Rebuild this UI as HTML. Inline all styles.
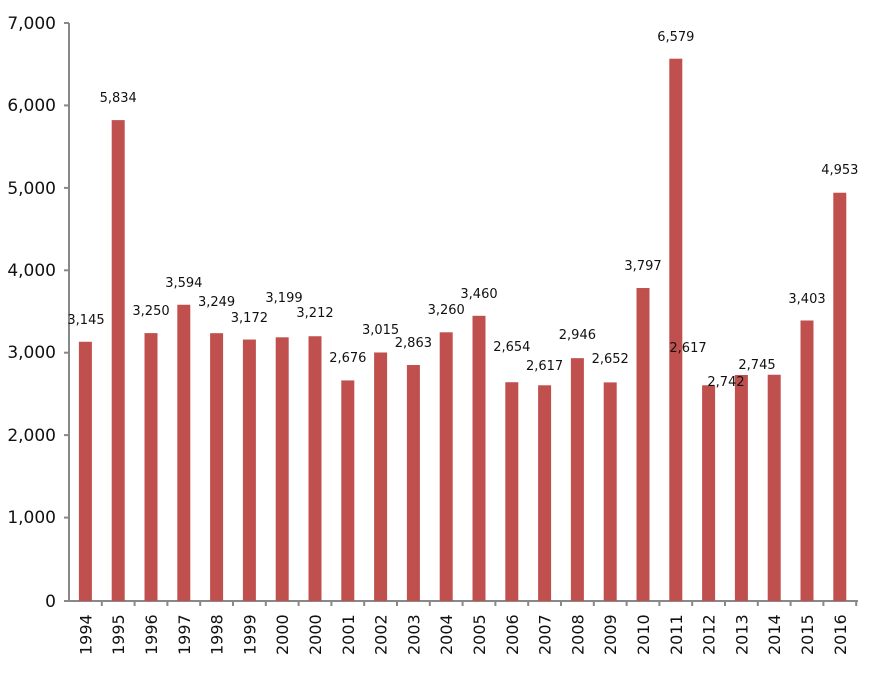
<!DOCTYPE html>
<html><head><meta charset="utf-8"><style>
html,body{margin:0;padding:0;background:#fff;}
svg text{font-family:"DejaVu Sans","Liberation Sans",sans-serif;fill:#111;}
</style></head><body>
<svg width="870" height="674" xmlns="http://www.w3.org/2000/svg">
<g id="yaxis" stroke="#888" stroke-width="2">
<line x1="69" y1="23" x2="69" y2="602"/>
<line x1="64" y1="23" x2="69" y2="23"/><line x1="64" y1="105.4" x2="69" y2="105.4"/><line x1="64" y1="187.9" x2="69" y2="187.9"/><line x1="64" y1="270.3" x2="69" y2="270.3"/><line x1="64" y1="352.7" x2="69" y2="352.7"/><line x1="64" y1="435.1" x2="69" y2="435.1"/><line x1="64" y1="517.6" x2="69" y2="517.6"/>
<line x1="64" y1="601" x2="858" y2="601"/>
</g>
<g font-size="17" text-anchor="end">
<text x="56" y="29">7,000</text><text x="56" y="111">6,000</text><text x="56" y="194">5,000</text><text x="56" y="276">4,000</text><text x="56" y="358">3,000</text><text x="56" y="441">2,000</text><text x="56" y="523">1,000</text><text x="56" y="607">0</text>
</g>
<g id="bars"></g>
<g id="xt" stroke="#888" stroke-width="2"></g>
<g id="xl" font-size="16"></g>
<g id="vl" font-size="13" text-anchor="middle"></g>
</svg>
<script>
var yrs=["1994","1995","1996","1997","1998","1999","2000","2000","2001","2002","2003","2004","2005","2006","2007","2008","2009","2010","2011","2012","2013","2014","2015","2016"];
var v=[3145,5834,3250,3594,3249,3172,3199,3212,2676,3015,2863,3260,3460,2654,2617,2946,2652,3797,6579,2617,2742,2745,3403,4953];
var ly=[324,102,315,287,306,322,302,317,362,334,347,314,298,351,370,339,363,270,41,352,386,369,303,174];
var lx={0:86,6:284,19:688,20:726,21:757};
var ns="http://www.w3.org/2000/svg",sp=32.8,b=document.getElementById("bars"),xt=document.getElementById("xt"),xl=document.getElementById("xl"),vl=document.getElementById("vl");
function el(t,a,p,tx){var e=document.createElementNS(ns,t);for(var k in a)e.setAttribute(k,a[k]);if(tx)e.textContent=tx;p.appendChild(e);return e;}
for(var i=0;i<24;i++){var c=69+sp*(i+0.5),h=v[i]*577/7000;
el("rect",{x:c-6.5,y:601-h,width:13,height:h,fill:"#c0504d"},b);
el("line",{x1:69+sp*(i+1),y1:601,x2:69+sp*(i+1),y2:606},xt);
el("text",{transform:"translate("+(c+6)+",655) rotate(-90)"},xl,yrs[i]);
el("text",{x:(lx[i]||c),y:ly[i]},vl,v[i].toLocaleString("en-US"));}
</script>
</body></html>
